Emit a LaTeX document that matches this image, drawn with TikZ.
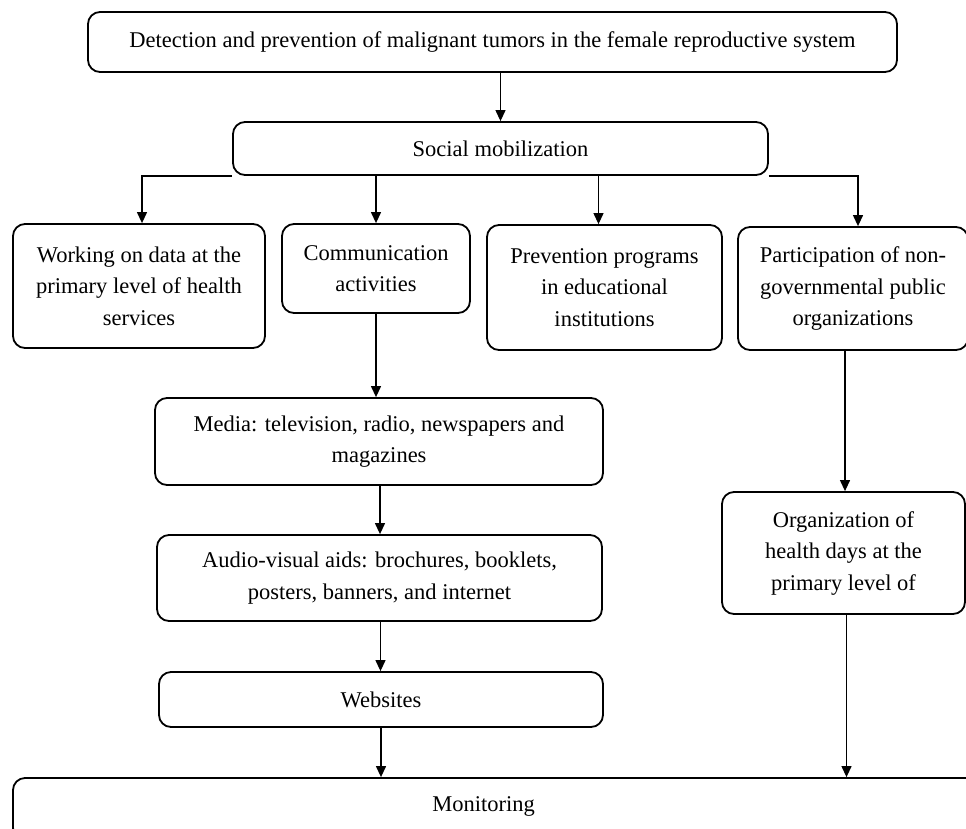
\documentclass[tikz,border=0pt]{standalone}
\usepackage{fontspec}
\setmainfont{Liberation Serif}
\usetikzlibrary{arrows.meta}
\tikzset{
  box/.style={draw, rounded corners=12pt, line width=1.8pt, align=center, inner sep=0pt,
    font=\fontsize{22.5}{31.5}\selectfont},
  arr/.style={line width=1.2pt, -{Triangle[length=11pt,width=10pt]}},
  link/.style={line width=1.2pt}
}
\begin{document}
\begin{tikzpicture}[x=1pt,y=-1pt]
\useasboundingbox (0,0) rectangle (966,828);
\clip (0,0) rectangle (966,828);
\fill[white] (0,0) rectangle (966,828);

\node[box, minimum width=809pt, minimum height=60pt] (top) at (492.5,42)
  {Detection and prevention of malignant tumors in the female reproductive system};
\node[box, minimum width=535pt, minimum height=53pt] (social) at (500.5,148.5)
  {Social mobilization};

\node[box, minimum width=252pt, minimum height=124pt] (working) at (139,286)
  {Working on data at the\\primary level of health\\services};
\node[box, minimum width=188pt, minimum height=89pt] (comm) at (376,268.5)
  {Communication\\activities};
\node[box, minimum width=235pt, minimum height=125pt] (prev) at (604.5,287.5)
  {Prevention programs\\in educational\\institutions};
\node[box, minimum width=230pt, minimum height=123pt] (part) at (853,288.5)
  {Participation of non-\\governmental public\\organizations};

\node[box, minimum width=448pt, minimum height=87pt] (media) at (379,441.5)
  {Media: television, radio, newspapers and\\magazines};
\node[box, minimum width=445pt, minimum height=86pt] (audio) at (379.5,578)
  {Audio-visual aids: brochures, booklets,\\posters, banners, and internet};
\node[box, minimum width=444pt, minimum height=55pt] (web) at (381,699.5)
  {Websites};

\node[box, minimum width=243pt, minimum height=122pt] (org) at (843.5,553)
  {Organization of\\health days at the\\primary level of};

\node[box, minimum width=967pt, minimum height=62pt] (mon) at (496.5,809)
  {\hspace*{-26pt}\raisebox{9pt}{Monitoring}};

% connector end points
\coordinate (previn) at ([xshift=-6pt]prev.north);
\coordinate (partin) at ([xshift=5pt]part.north);
\coordinate (workin) at ([xshift=3pt]working.north);
\coordinate (partout) at ([xshift=-8pt]part.south);
\coordinate (orgout) at ([xshift=3pt]org.south);
\coordinate (mediaout) at ([xshift=1pt]media.south);
\coordinate (audioout) at ([xshift=1pt]audio.south);

% connectors
\draw[arr] (top.south -| social.north) -- (social.north);
\draw[arr] (social.south west) -| (workin);
\draw[arr] (social.south -| comm.north) -- (comm.north);
\draw[arr] (social.south -| previn) -- (previn);
\draw[arr] (social.south east) -| (partin);

\draw[arr] (comm.south) -- (comm.south |- media.north);
\draw[arr] (mediaout) -- (mediaout |- audio.north);
\draw[arr] (audioout) -- (audioout |- web.north);
\draw[arr] (web.south) -- (web.south |- mon.north);

\draw[arr] (partout) -- (partout |- org.north);
\draw[arr] (orgout) -- (orgout |- mon.north);
\end{tikzpicture}
\end{document}
